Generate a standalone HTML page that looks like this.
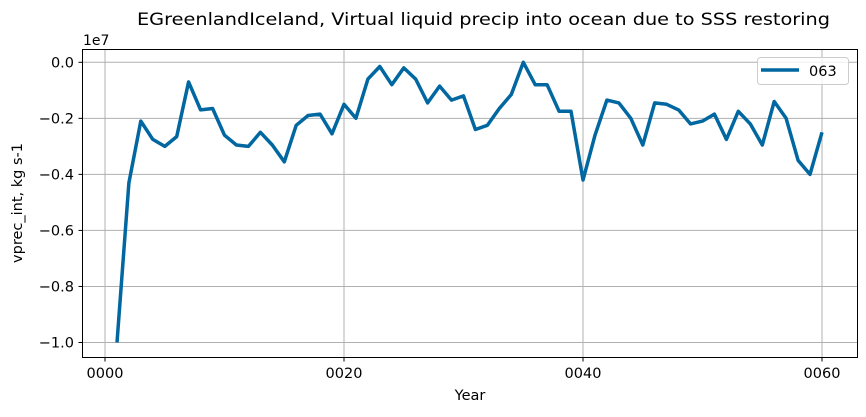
<!DOCTYPE html>
<html><head><meta charset="utf-8"><style>
html,body{margin:0;padding:0;background:#fff}
svg text{font-family:"DejaVu Sans","Liberation Sans",sans-serif;fill:#000}
</style></head><body>
<svg id="chart" width="866" height="412" xmlns="http://www.w3.org/2000/svg">
<text x="137" y="25" font-size="17" textLength="693" lengthAdjust="spacingAndGlyphs">EGreenlandIceland, Virtual liquid precip into ocean due to SSS restoring</text>
<g id="grid"></g>
<g id="axes"></g>
<path id="series" fill="none" stroke="#0067a0" stroke-width="3.5" stroke-linejoin="round"/>
<rect x="82.5" y="49.5" width="775" height="308" fill="none" stroke="#000" stroke-width="1"/>
<text x="83" y="45" font-size="14">1e7</text>
<text x="470" y="400" font-size="14.5" text-anchor="middle">Year</text>
<text transform="translate(22,203) rotate(-90)" font-size="14.5" text-anchor="middle">vprec_int, kg s-1</text>
<g>
<rect x="757.5" y="57.5" width="91" height="27" rx="3" fill="#fff" fill-opacity="0.8" stroke="#ccc"/>
<line x1="761" y1="70" x2="799" y2="70" stroke="#0067a0" stroke-width="3.5"/>
<text x="809" y="76" font-size="14.5">063</text>
</g>
</svg>
<script>
const years=[1,2,3,4,5,6,7,8,9,10,11,12,13,14,15,16,17,18,19,20,21,22,23,24,25,26,27,28,29,30,31,32,33,34,35,36,37,38,39,40,41,42,43,44,45,46,47,48,49,50,51,52,53,54,55,56,57,58,59,60];
const values=[-1.0,-0.43,-0.21,-0.275,-0.30,-0.265,-0.07,-0.17,-0.165,-0.26,-0.295,-0.30,-0.25,-0.295,-0.355,-0.225,-0.19,-0.185,-0.255,-0.15,-0.20,-0.06,-0.015,-0.08,-0.02,-0.06,-0.145,-0.085,-0.135,-0.12,-0.24,-0.225,-0.165,-0.115,0.0,-0.08,-0.08,-0.175,-0.175,-0.42,-0.26,-0.135,-0.145,-0.20,-0.295,-0.145,-0.15,-0.17,-0.22,-0.21,-0.185,-0.275,-0.175,-0.22,-0.295,-0.14,-0.20,-0.35,-0.40,-0.25];
const xTicks=[0,20,40,60];
const xTickLabels=["0000","0020","0040","0060"];
const yTicks=[0,-0.2,-0.4,-0.6,-0.8,-1.0];
const yTickLabels=["0.0","\u22120.2","\u22120.4","\u22120.6","\u22120.8","\u22121.0"];
const NS="http://www.w3.org/2000/svg";
function xs(v){return 105+v*(239/20);}
function ys(v){return 62.3-v*280.2;}
const grid=document.getElementById('grid'),axes=document.getElementById('axes');
function mk(tag,attrs,parent){const e=document.createElementNS(NS,tag);for(const k in attrs)e.setAttribute(k,attrs[k]);parent.appendChild(e);return e;}
xTicks.forEach((t,i)=>{
 const gl=mk('line',{x1:xs(t),x2:xs(t),y1:49.5,y2:357.5,stroke:'#b0b0b0','stroke-width':1},grid);
 
 
 const tk=mk('line',{x1:xs(t),x2:xs(t),y1:357.5,y2:361.5,stroke:'#000'},axes);
 
 
 const tx=mk('text',{x:xs(t),y:378,'font-size':14.5,'text-anchor':'middle'},axes);
 
 
 tx.textContent=xTickLabels[i];
});
yTicks.forEach((t,i)=>{
 const gl=mk('line',{x1:82.5,x2:857.5,y1:ys(t),y2:ys(t),stroke:'#b0b0b0','stroke-width':1},grid);
 
 
 const tk=mk('line',{x1:78.5,x2:82.5,y1:ys(t),y2:ys(t),stroke:'#000'},axes);
 
 
 const tx=mk('text',{x:74,y:ys(t)+5,'font-size':14.5,'text-anchor':'end'},axes);
 
 
 tx.textContent=yTickLabels[i];
});
document.getElementById('series').setAttribute('d',years.map((y,i)=>(i?'L':'M')+xs(y).toFixed(1)+','+ys(values[i]).toFixed(1)).join(' '));
</script>
</body></html>
